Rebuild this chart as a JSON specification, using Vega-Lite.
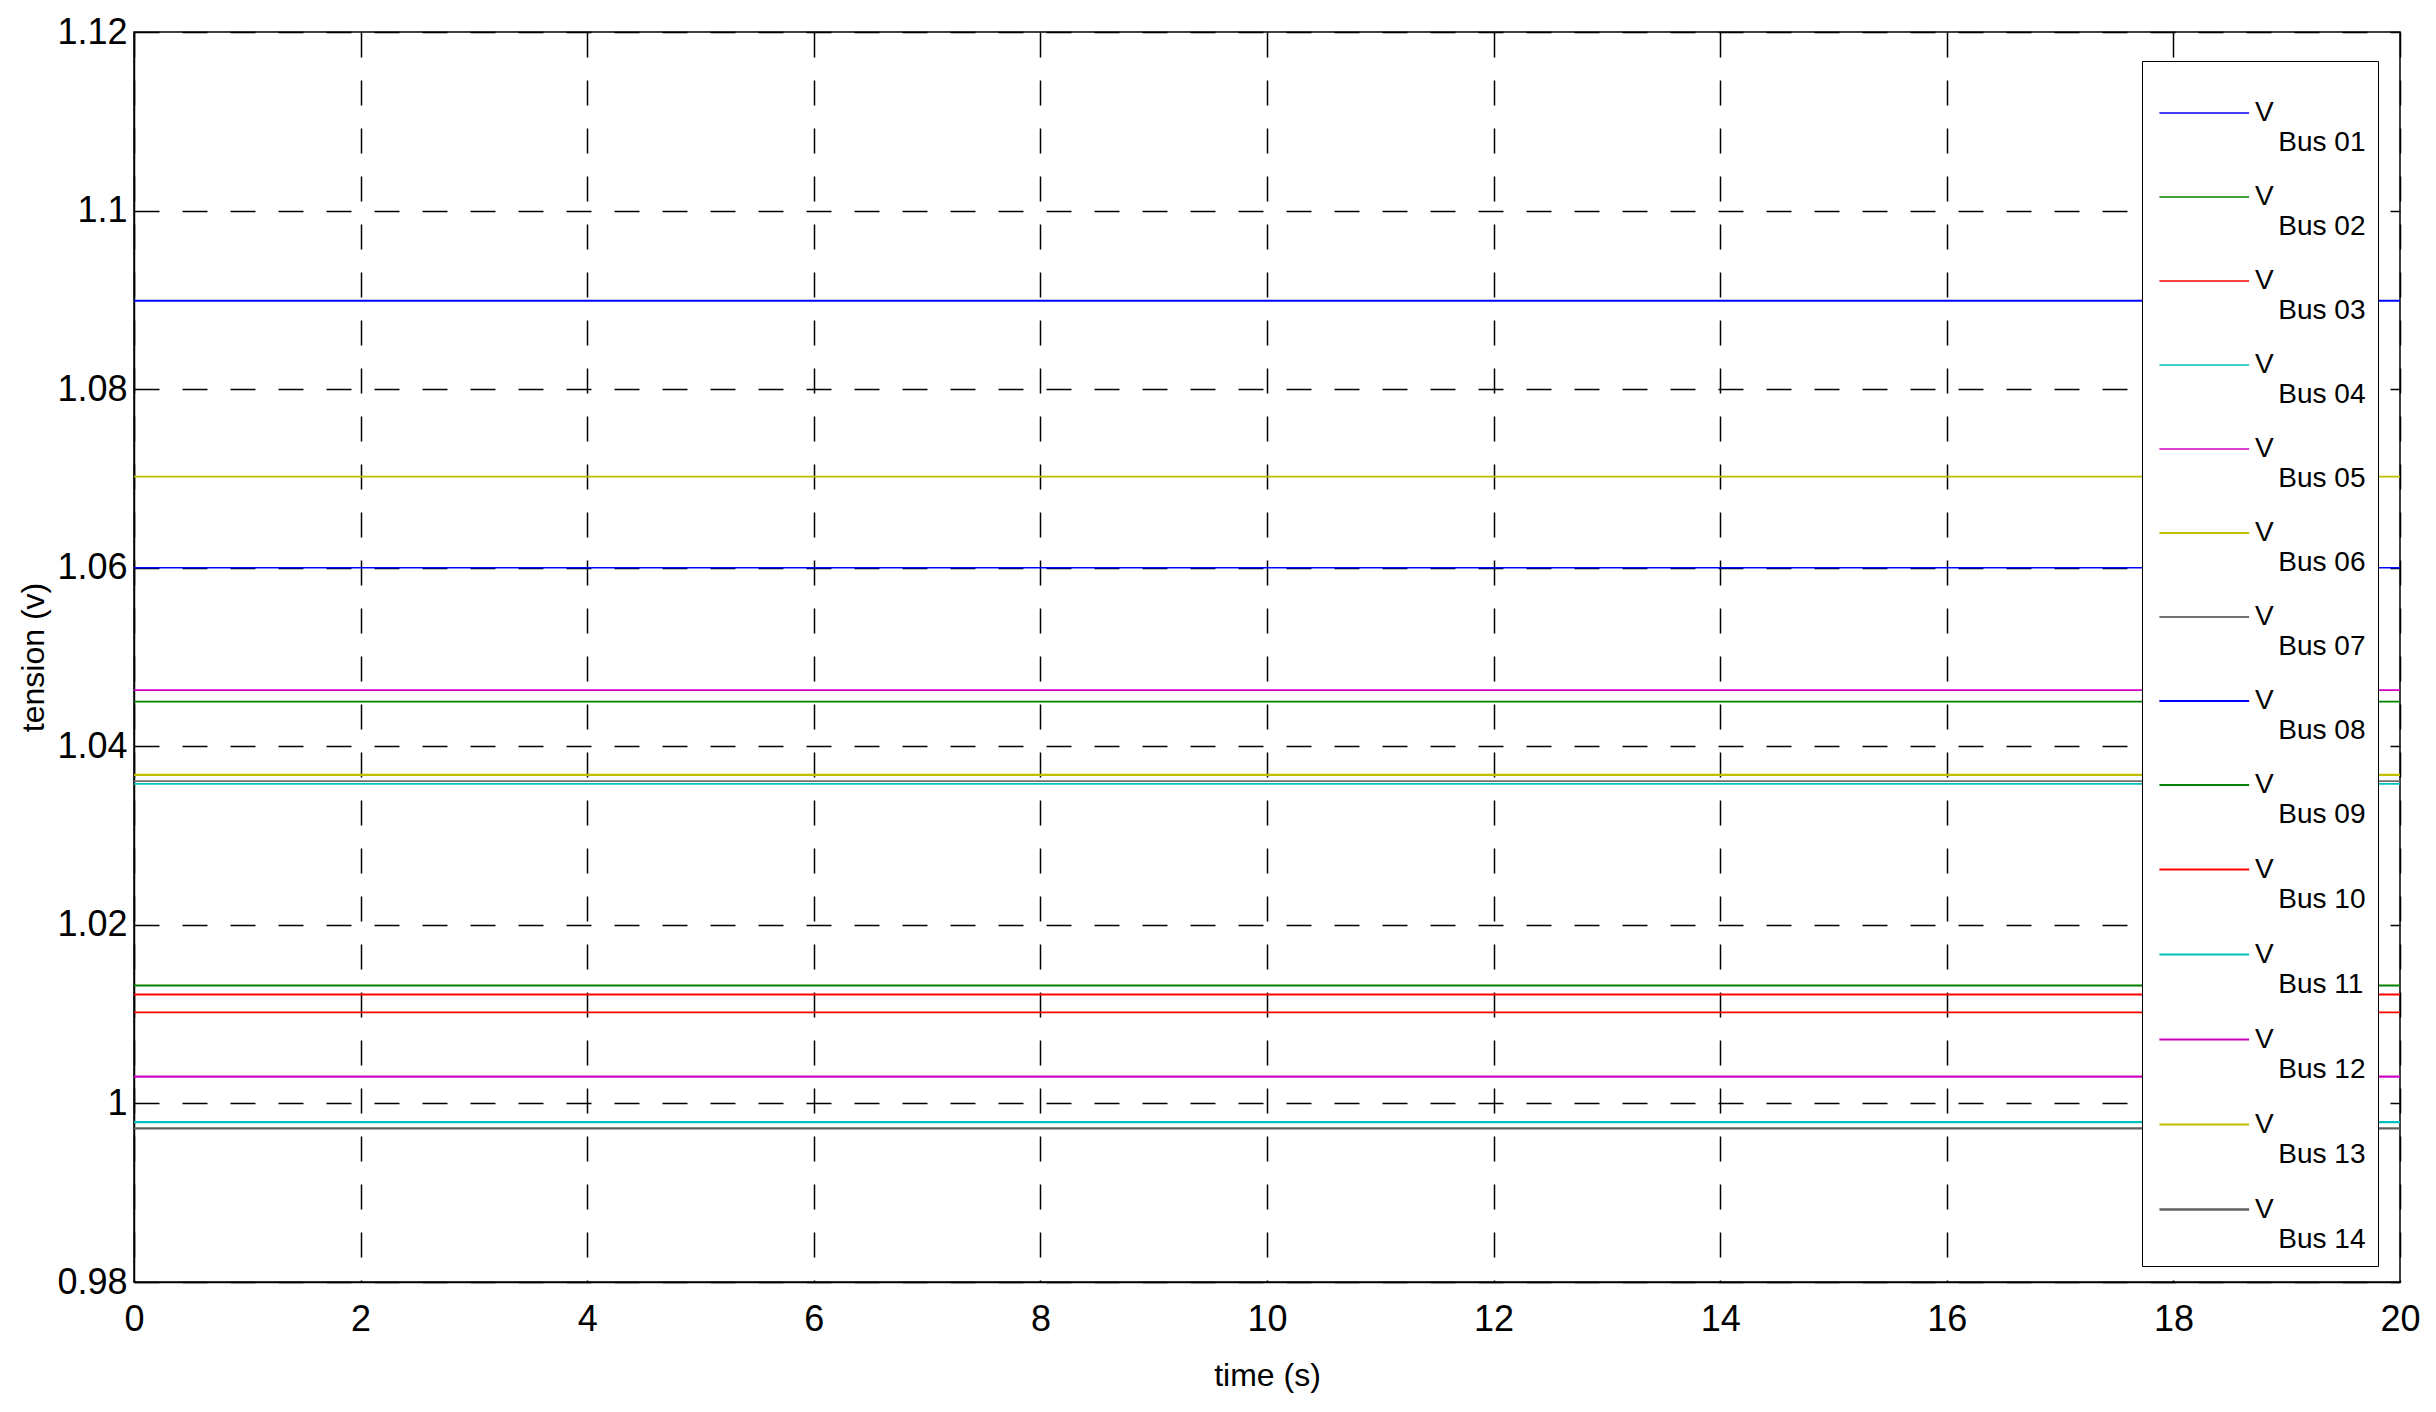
{
  "$schema": "https://vega.github.io/schema/vega-lite/v6.json",
  "width": 2266,
  "height": 1250,
  "autosize": {"type": "none"},
  "padding": {"left": 134, "top": 32, "right": 36, "bottom": 130},
  "background": "white",
  "config": {
    "font": "Liberation Sans, Arial",
    "view": {"stroke": "black", "strokeWidth": 1.5},
    "axis": {
      "domainColor": "black",
      "domainWidth": 1.5,
      "grid": true,
      "gridColor": "black",
      "gridOpacity": 1,
      "gridWidth": 1.5,
      "gridDash": [25, 23],
      "ticks": false,
      "labelColor": "black",
      "labelFontSize": 36,
      "labelFont": "Liberation Sans, Arial",
      "titleFont": "Liberation Sans, Arial",
      "titleColor": "black",
      "titleFontSize": 32,
      "titleFontWeight": "normal"
    }
  },
  "data": {
    "values": [
      {"bus": "Bus 01", "t": 0, "v": 1.06},
      {"bus": "Bus 01", "t": 20, "v": 1.06},
      {"bus": "Bus 02", "t": 0, "v": 1.045},
      {"bus": "Bus 02", "t": 20, "v": 1.045},
      {"bus": "Bus 03", "t": 0, "v": 1.0102},
      {"bus": "Bus 03", "t": 20, "v": 1.0102},
      {"bus": "Bus 04", "t": 0, "v": 1.0358},
      {"bus": "Bus 04", "t": 20, "v": 1.0358},
      {"bus": "Bus 05", "t": 0, "v": 1.0463},
      {"bus": "Bus 05", "t": 20, "v": 1.0463},
      {"bus": "Bus 06", "t": 0, "v": 1.0702},
      {"bus": "Bus 06", "t": 20, "v": 1.0702},
      {"bus": "Bus 07", "t": 0, "v": 1.0361},
      {"bus": "Bus 07", "t": 20, "v": 1.0361},
      {"bus": "Bus 08", "t": 0, "v": 1.0899},
      {"bus": "Bus 08", "t": 20, "v": 1.0899},
      {"bus": "Bus 09", "t": 0, "v": 1.0132},
      {"bus": "Bus 09", "t": 20, "v": 1.0132},
      {"bus": "Bus 10", "t": 0, "v": 1.0122},
      {"bus": "Bus 10", "t": 20, "v": 1.0122},
      {"bus": "Bus 11", "t": 0, "v": 0.9979},
      {"bus": "Bus 11", "t": 20, "v": 0.9979},
      {"bus": "Bus 12", "t": 0, "v": 1.003},
      {"bus": "Bus 12", "t": 20, "v": 1.003},
      {"bus": "Bus 13", "t": 0, "v": 1.0368},
      {"bus": "Bus 13", "t": 20, "v": 1.0368},
      {"bus": "Bus 14", "t": 0, "v": 0.9972},
      {"bus": "Bus 14", "t": 20, "v": 0.9972}
    ]
  },
  "mark": {"type": "line", "clip": true},
  "encoding": {
    "x": {
      "field": "t",
      "type": "quantitative",
      "scale": {"domain": [0, 20], "nice": false, "zero": false},
      "axis": {
        "title": "time (s)",
        "values": [0, 2, 4, 6, 8, 10, 12, 14, 16, 18, 20],
        "labelPadding": 20,
        "titlePadding": 23,
        "labelFlush": false
      }
    },
    "y": {
      "field": "v",
      "type": "quantitative",
      "scale": {"domain": [0.98, 1.12], "nice": false, "zero": false},
      "axis": {
        "title": "tension (v)",
        "values": [0.98, 1, 1.02, 1.04, 1.06, 1.08, 1.1, 1.12],
        "format": "~g",
        "labelPadding": 7,
        "titlePadding": 6,
        "labelFlush": false
      }
    },
    "color": {
      "field": "bus",
      "type": "nominal",
      "scale": {
        "domain": ["Bus 01", "Bus 02", "Bus 03", "Bus 04", "Bus 05", "Bus 06", "Bus 07", "Bus 08", "Bus 09", "Bus 10", "Bus 11", "Bus 12", "Bus 13", "Bus 14"],
        "range": ["#0000FF", "#008000", "#FF0000", "#00BFBF", "#D000C0", "#BFBF00", "#707070", "#0000FF", "#008000", "#FF0000", "#00BFBF", "#D000C0", "#BFBF00", "#606060"]
      },
      "legend": {
        "title": null,
        "orient": "none",
        "legendX": 2008,
        "legendY": 29,
        "strokeColor": "black",
        "fillColor": "white",
        "padding": 12,
        "labelFontSize": 28,
        "labelColor": "black",
        "labelFont": "Liberation Sans, Arial",
        "labelExpr": "['V', '\u200b\u00a0\u00a0\u00a0' + datum.label]",
        "labelOffset": 20,
        "symbolType": "M-0.9,0H1.4",
        "symbolSize": 6084,
        "rowPadding": 0,
        "labelLimit": 400
      }
    },
    "strokeWidth": {
      "field": "bus",
      "type": "nominal",
      "scale": {
        "domain": ["Bus 01", "Bus 02", "Bus 03", "Bus 04", "Bus 05", "Bus 06", "Bus 07", "Bus 08", "Bus 09", "Bus 10", "Bus 11", "Bus 12", "Bus 13", "Bus 14"],
        "range": [1.5, 2.3, 2.2, 1.5, 1.4, 2.3, 1.4, 2.3, 2.3, 1.4, 1.5, 2.3, 1.4, 1.4]
      }
    }
  }
}
